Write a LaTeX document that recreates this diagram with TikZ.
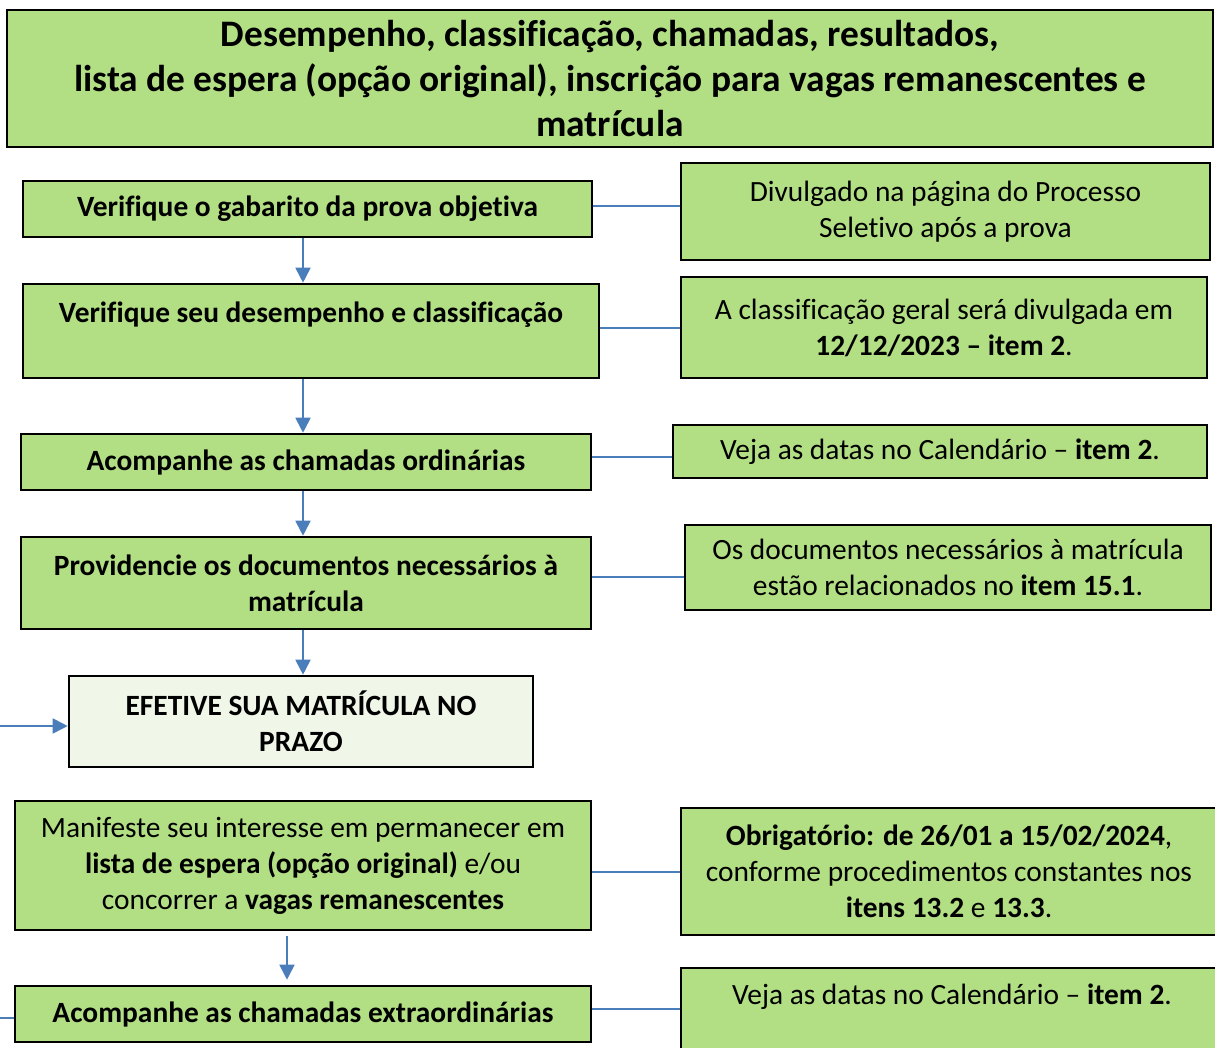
\documentclass[tikz,border=0pt]{standalone}
\usepackage{fontspec}
\setmainfont{Carlito}[Ligatures=NoCommon]
\usetikzlibrary{arrows.meta,calc}
\definecolor{boxgreen}{RGB}{178,222,132}
\definecolor{boxlight}{RGB}{240,247,232}
\definecolor{linkblue}{RGB}{74,126,187}
\begin{document}
\begin{tikzpicture}[x=1pt,y=-1pt,
  box/.style={draw=black,line width=2.6pt,fill=boxgreen,inner sep=0pt,align=center,
    font=\fontsize{29.4}{36}\selectfont},
  lbox/.style={box,fill=boxlight},
  ttl/.style={box,font=\fontsize{37.4}{45}\selectfont\bfseries},
  txt/.style={inner sep=0pt,align=center,font=\fontsize{29.4}{36}\selectfont},
  link/.style={draw=linkblue,line width=1.8pt},
  arr/.style={link,-{Triangle[length=15pt,width=15pt]}}]
\clip (0,0) rectangle (1215,1048);
\fill[white] (0,0) rectangle (1215,1048);
% title
\node[ttl,minimum width=1206pt,minimum height=137pt] (T) at (610,78.5)
  {Desempenho, classificação, chamadas, resultados,\\lista de espera (opção original), inscrição para vagas remanescentes e\\matrícula};
% left column
\node[box,minimum width=569pt,minimum height=56pt] (B1) at (307.5,209) {\textbf{Verifique o gabarito da prova objetiva}};
\node[box,minimum width=576pt,minimum height=94pt] (B2) at (311,331) {};
\node[txt] (B2t) at (311,315) {\textbf{Verifique seu desempenho e classificação}};
\node[box,minimum width=570pt,minimum height=56pt] (B3) at (306,462) {\textbf{Acompanhe as chamadas ordinárias}};
\node[box,minimum width=570pt,minimum height=92pt] (B4) at (306,583) {\textbf{Providencie os documentos necessários à}\\\textbf{matrícula}};
\node[lbox,minimum width=464pt,minimum height=91pt] (B5) at (301,721.5) {\textbf{EFETIVE SUA MATRÍCULA NO}\\\textbf{PRAZO}};
\node[box,minimum width=576pt,minimum height=129pt] (B6) at (303,865.5) {Manifeste seu interesse em permanecer em\\\textbf{lista de espera (opção original)} e/ou\\concorrer a \textbf{vagas remanescentes}};
\node[box,minimum width=576pt,minimum height=56pt] (B7) at (303,1014) {\textbf{Acompanhe as chamadas extraordinárias}};
% right column
\node[box,minimum width=529pt,minimum height=97pt] (R1) at (945.5,211.5) {Divulgado na página do Processo\\Seletivo após a prova};
\node[box,minimum width=526pt,minimum height=101pt] (R2) at (944,327.5) {A classificação geral será divulgada em\\\textbf{12/12/2023 – item 2}.};
\node[box,minimum width=534pt,minimum height=53pt] (R3) at (940,451.5) {Veja as datas no Calendário – \textbf{item 2}.};
\node[box,minimum width=526pt,minimum height=85pt] (R4) at (948,567.5) {Os documentos necessários à matrícula\\estão relacionados no \textbf{item 15.1}.};
\node[box,minimum width=536pt,minimum height=127pt] (R6) at (949,871.5) {\textbf{Obrigatório: de 26/01 a 15/02/2024},\\conforme procedimentos constantes nos\\\textbf{itens 13.2} e \textbf{13.3}.};
\node[box,minimum width=536pt,minimum height=100pt] (R7) at (949,1018) {};
\node[txt] (R7t) at (952,997) {Veja as datas no Calendário – \textbf{item 2}.};
% horizontal links
\draw[link] (B1.east |- 0,206) -- (R1.west |- 0,206);
\draw[link] (B2.east |- 0,328) -- (R2.west |- 0,328);
\draw[link] (B3.east |- 0,457) -- (R3.west |- 0,457);
\draw[link] (B4.east |- 0,577) -- (R4.west |- 0,577);
\draw[link] (B6.east |- 0,872) -- (R6.west |- 0,872);
\draw[link] (B7.east |- 0,1009) -- (R7.west |- 0,1009);
% vertical arrows
\coordinate (ax) at (303,0);
\coordinate (bx) at (287,0);
\draw[arr] (B1.south -| ax) -- (B2.north -| ax);
\draw[arr] (B2.south -| ax) -- (B3.north -| ax);
\draw[arr] (B3.south -| ax) -- (B4.north -| ax);
\draw[arr] (B4.south -| ax) -- (B5.north -| ax);
\draw[arr,shorten <=5pt,shorten >=5pt] (B6.south -| bx) -- (B7.north -| bx);
% left inputs
\coordinate (L5) at (0,726);
\coordinate (L7) at (0,1018);
\draw[arr] (L5) -- (L5 -| B5.west);
\draw[link] (L7) -- (L7 -| B7.west);
\end{tikzpicture}
\end{document}
